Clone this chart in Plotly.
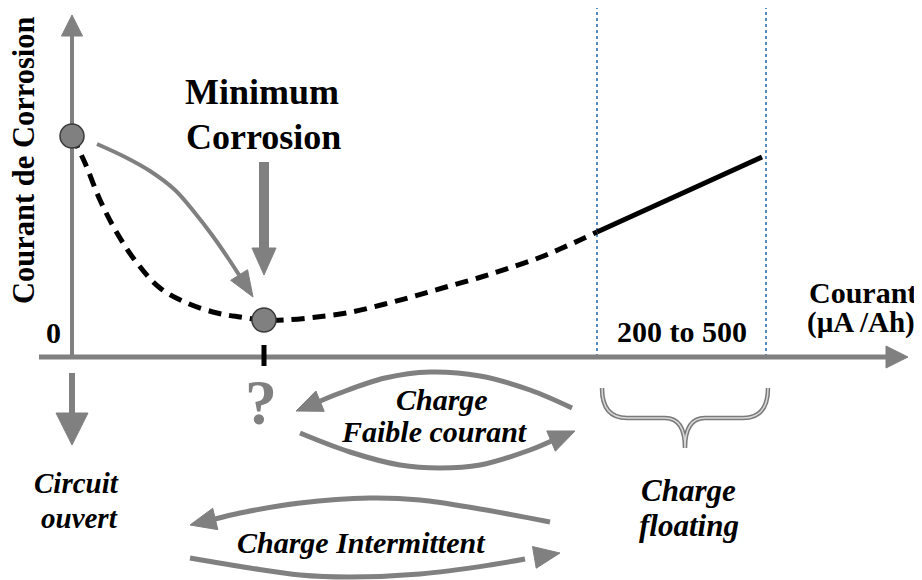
import math
import plotly.graph_objects as go

# ---------------- data (diagram coordinates, y grows downward) ----------------
# corrosion curve (dashed part, from open-circuit point through the minimum)
curve_dash_x = [72, 85, 100, 117, 137, 160, 187, 217, 240, 264, 285, 317, 352, 385, 415, 446, 478, 509, 541, 569, 597]
curve_dash_y = [136, 163, 200, 233, 263, 288, 303, 313, 317, 320, 320, 317, 312, 304, 296, 287, 278, 268, 257, 245, 232]
# solid part (floating charge range)
curve_solid_x = [597, 762]
curve_solid_y = [232, 157]
# marked points
point_x = [72, 264]
point_y = [136, 320]
# floating range limits
range_x = [597, 766]
# curved arrow from open circuit point to minimum
arc_min_x = [97, 125, 150, 175, 195, 212, 228, 241, 253]
arc_min_y = [144, 157, 171, 190, 213, 235, 258, 278, 297]
# "Charge Faible courant" arrows
faible_up_x = [572, 530, 480, 430, 385, 340, 296]
faible_up_y = [408, 390, 376, 372, 378, 393, 411]
faible_low_x = [300, 350, 400, 440, 480, 530, 575]
faible_low_y = [433, 452, 465, 468, 465, 450, 431]
# "Charge Intermittent" arrows
inter_up_x = [550, 480, 420, 370, 300, 240, 190]
inter_up_y = [522, 509, 500, 498, 503, 513, 525]
inter_low_x = [190, 250, 300, 350, 420, 490, 560]
inter_low_y = [558, 568, 575, 577, 574, 565, 553]
# curly bracket under the 200-500 range
brace_x = [602, 685, 768]
brace_top_y = 388
brace_mid_y = 418
brace_tip_y = 448

GREY = "#808080"
FONT = "Liberation Serif"
PAGE_OFFSET = 8  # default page body margin, so diagram units equal window pixels

fig = go.Figure()


def head(tip, prev, L, W):
    dx, dy = tip[0] - prev[0], tip[1] - prev[1]
    n = math.hypot(dx, dy)
    dx, dy = dx / n, dy / n
    bx, by = tip[0] - dx * L, tip[1] - dy * L
    px, py = -dy, dx
    xs = [tip[0], bx + px * W / 2, bx - px * W / 2, tip[0]]
    ys = [tip[1], by + py * W / 2, by - py * W / 2, tip[1]]
    fig.add_trace(go.Scatter(x=xs, y=ys, mode="lines", fill="toself",
                             fillcolor=GREY, line=dict(color=GREY, width=1),
                             hoverinfo="skip"))


def shaft(xs, ys, w, smooth=True):
    fig.add_trace(go.Scatter(x=xs, y=ys, mode="lines",
                             line=dict(color=GREY, width=w,
                                       shape="spline" if smooth else "linear"),
                             hoverinfo="skip"))


def curved_arrow(xs, ys, w=5, L=26, W=22):
    shaft(xs[:-1] + [xs[-1] - (xs[-1] - xs[-2]) * 0.5], ys[:-1] + [ys[-1] - (ys[-1] - ys[-2]) * 0.5], w)
    head((xs[-1], ys[-1]), (xs[-2], ys[-2]), L, W)


# floating range dotted lines
for xv in range_x:
    fig.add_trace(go.Scatter(x=[xv, xv], y=[0, 357], mode="lines",
                             line=dict(color="#2e6db4", width=1.6, dash="dot"),
                             hoverinfo="skip"))

# axes
shaft([72, 72], [357, 30], 4, False)
head((72, 15), (72, 40), 21, 21)
shaft([39, 895], [357, 357], 5, False)
head((908, 357), (880, 357), 22, 22)

# open circuit down arrow
shaft([72, 72], [373, 416], 6, False)
head((72, 445), (72, 420), 32, 32)

# minimum corrosion arrow
shaft([264, 264], [162, 252], 10, False)
head((264, 275), (264, 250), 27, 24)

# curved arrow to minimum
curved_arrow(arc_min_x, arc_min_y, w=4, L=26, W=20)

# charge arrows
curved_arrow(faible_up_x, faible_up_y, w=5, L=26, W=22)
curved_arrow(faible_low_x, faible_low_y, w=5, L=26, W=22)
curved_arrow(inter_up_x, inter_up_y, w=5, L=26, W=22)
curved_arrow(inter_low_x, inter_low_y, w=5, L=26, W=22)

# corrosion curve
fig.add_trace(go.Scatter(x=curve_dash_x, y=curve_dash_y, mode="lines",
                         line=dict(color="black", width=5, dash="13px,8px", shape="spline"),
                         hoverinfo="skip"))
fig.add_trace(go.Scatter(x=curve_solid_x, y=curve_solid_y, mode="lines",
                         line=dict(color="black", width=5), hoverinfo="skip"))
# tick under the minimum
fig.add_trace(go.Scatter(x=[point_x[1], point_x[1]], y=[345, 366], mode="lines",
                         line=dict(color="black", width=5), hoverinfo="skip"))
# marked points
fig.add_trace(go.Scatter(x=point_x, y=point_y, mode="markers",
                         marker=dict(size=24, color=GREY, line=dict(color="#3a3a3a", width=1.5)),
                         hoverinfo="skip"))

# curly bracket
x0, xm, x1 = brace_x
path = (f"M {x0} {brace_top_y} Q {x0} {brace_mid_y} {x0 + 25} {brace_mid_y} "
        f"L {xm - 20} {brace_mid_y} Q {xm} {brace_mid_y} {xm} {brace_tip_y} "
        f"Q {xm} {brace_mid_y} {xm + 20} {brace_mid_y} "
        f"L {x1 - 25} {brace_mid_y} Q {x1} {brace_mid_y} {x1} {brace_top_y}")
fig.add_shape(type="path", path=path, xref="x", yref="y",
              line=dict(color="#7a7a7a", width=4.5))
fig.add_shape(type="path", path=path, xref="x", yref="y",
              line=dict(color="#d9d9d9", width=1.5))


def label(x, y, text, size, bold=True, italic=False, color="black", angle=0, xanchor="center"):
    t = text
    if italic:
        t = f"<i>{t}</i>"
    if bold:
        t = f"<b>{t}</b>"
    fig.add_annotation(x=x, y=y, xref="x", yref="y", text=t, showarrow=False,
                       xanchor=xanchor, yanchor="middle", textangle=angle,
                       font=dict(family=FONT, size=size, color=color))


label(24, 160, "Courant de Corrosion", 30.5, angle=-90)
label(53, 332, "0", 30)
label(262, 92, "Minimum", 36)
label(263, 137, "Corrosion", 36)
label(807, 292, "Courant", 30, xanchor="left")
label(805, 322, "(µA /Ah)", 29, xanchor="left")
label(682, 331, "200 to 500", 30)
label(261, 402, "?", 64, color=GREY)
label(76, 483, "Circuit", 29, italic=True)
label(79, 518, "ouvert", 29, italic=True)
label(442, 399, "Charge", 30, italic=True)
label(434, 431, "Faible courant", 30, italic=True)
label(361, 542, "Charge Intermittent", 30, italic=True)
label(688, 490, "Charge", 31, italic=True)
label(689, 525, "floating", 31, italic=True)

fig.update_layout(
    width=922, height=580,
    margin=dict(l=0, r=0, t=0, b=0),
    paper_bgcolor="white", plot_bgcolor="white",
    showlegend=False,
    xaxis=dict(range=[PAGE_OFFSET, 922 + PAGE_OFFSET], visible=False, fixedrange=True),
    yaxis=dict(range=[580 + PAGE_OFFSET, PAGE_OFFSET], visible=False, fixedrange=True),
)

fig.write_html("out.html")
